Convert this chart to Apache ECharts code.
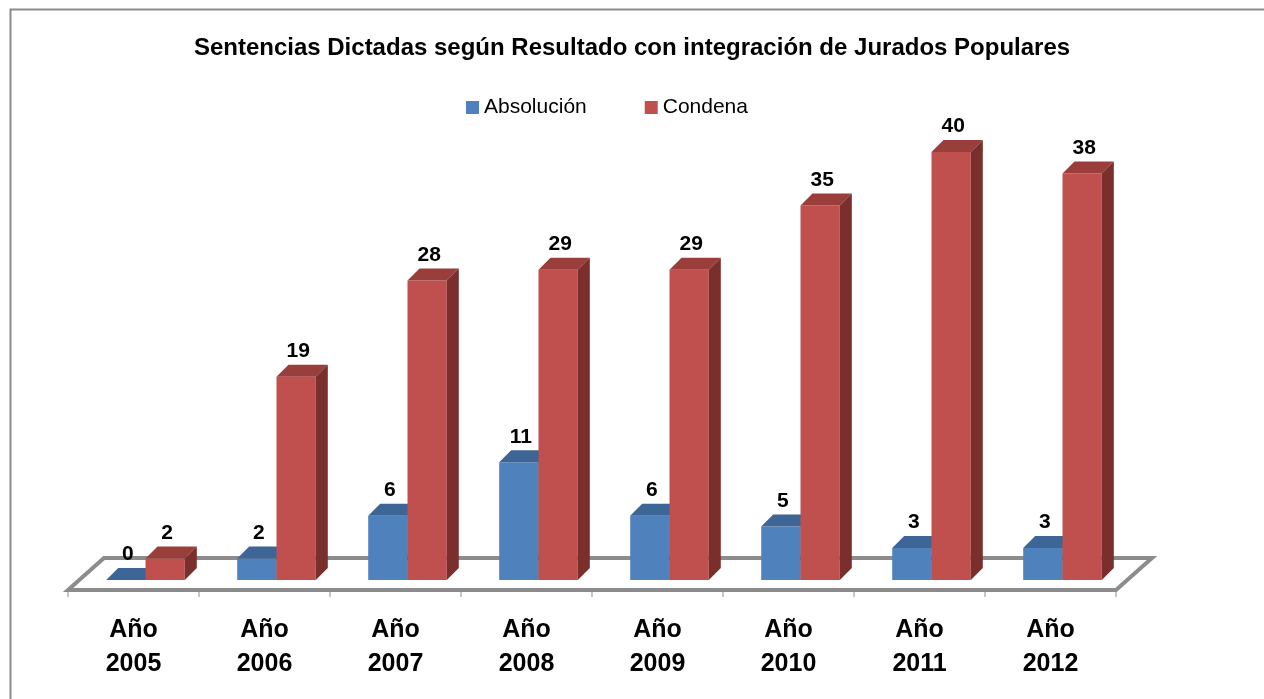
<!DOCTYPE html>
<html>
<head>
<meta charset="utf-8">
<title>Sentencias Dictadas</title>
<script src="https://cdn.jsdelivr.net/npm/echarts@6/dist/echarts.min.js"></script>
<style>
  html, body { margin: 0; padding: 0; background: #fff; }
  #chart { width: 1264px; height: 699px; }
</style>
</head>
<body>
<div id="chart"></div>
<script>
// datos
var years = ['Año\n2005', 'Año\n2006', 'Año\n2007', 'Año\n2008', 'Año\n2009', 'Año\n2010', 'Año\n2011', 'Año\n2012'];
var absolucion = [0, 2, 6, 11, 6, 5, 3, 3];
var condena = [2, 19, 28, 29, 29, 35, 40, 38];

var DEPTH = 12;
var FONT = '"Liberation Sans", Arial, sans-serif';

// colores: frente, tapa, lado
var colBlue = ['#4f81bd', '#3d6696', '#30547f'];
var colRed = ['#c0504d', '#9a3e3b', '#7b2f2d'];

function bar3d(side, cols) {
  return function (params, api) {
    var idx = api.value(0);
    var val = api.value(1);
    var top = api.coord([idx, val]);
    var base = api.coord([idx, 0]);
    var w = api.size([1, 0])[0] * 0.3;
    var x0 = top[0] + DEPTH + (side === 0 ? -w : 0);
    var yT = top[1], yB = base[1], d = DEPTH;
    return {
      type: 'group',
      children: [
        { type: 'rect', shape: { x: x0, y: yT, width: w, height: yB - yT },
          style: { fill: cols[0] } },
        { type: 'polygon', shape: { points: [[x0, yT], [x0 + d, yT - d], [x0 + w + d, yT - d], [x0 + w, yT]] },
          style: { fill: cols[1] } },
        { type: 'polygon', shape: { points: [[x0 + w, yT], [x0 + w + d, yT - d], [x0 + w + d, yB - d], [x0 + w, yB]] },
          style: { fill: cols[2] } },
        { type: 'text',
          style: { text: String(val), x: x0 + w / 2 + 2, y: yT - d - 3,
                   textAlign: 'center', textVerticalAlign: 'bottom',
                   align: 'center', verticalAlign: 'bottom',
                   fill: '#000', font: 'bold 21px ' + FONT } }
      ]
    };
  };
}

// piso 3D
function floorItem(params, api) {
  var cs = params.coordSys;
  var x = cs.x, r = cs.x + cs.width, y = cs.y + cs.height;
  var front = y + 10, back = y - 22, sh = 36;
  var n = years.length, step = cs.width / n;
  var children = [
    { type: 'polygon',
      shape: { points: [[x, front], [r, front], [r + sh, back], [x + sh, back]] },
      style: { fill: '#fff', stroke: '#8c8c8c', lineWidth: 4, lineJoin: 'miter' } }
  ];
  for (var i = 0; i <= n; i++) {
    children.push({ type: 'line',
      shape: { x1: x + i * step, y1: front + 2, x2: x + i * step, y2: front + 7 },
      style: { stroke: '#8c8c8c', lineWidth: 1 } });
  }
  return { type: 'group', children: children };
}

var myChart = echarts.init(document.getElementById('chart'));
var option = {
  backgroundColor: '#fff',
  animation: false,
  graphic: [{
    type: 'rect', left: 8, top: 7,
    shape: { width: 1300, height: 760 },
    style: { fill: 'none', stroke: '#8a8a8a', lineWidth: 2 }
  }],
  title: {
    text: 'Sentencias Dictadas según Resultado con integración de Jurados Populares',
    left: 'center',
    top: 31,
    textStyle: { fontFamily: FONT, fontSize: 24, fontWeight: 'bold', color: '#000' }
  },
  legend: {
    left: 461,
    top: 92,
    itemWidth: 13,
    itemHeight: 13,
    itemGap: 58,
    data: [
      { name: 'Absolución', icon: 'rect' },
      { name: 'Condena', icon: 'rect' }
    ],
    textStyle: { fontFamily: FONT, fontSize: 21, color: '#000' }
  },
  grid: { left: 68, right: 148, top: 152, bottom: 119 },
  xAxis: {
    type: 'category',
    data: years,
    axisLine: { show: false },
    axisTick: { show: false },
    axisLabel: {
      interval: 0,
      margin: 33,
      fontFamily: FONT,
      fontSize: 25,
      fontWeight: 'bold',
      lineHeight: 34,
      color: '#000'
    }
  },
  yAxis: { type: 'value', min: 0, max: 40, show: false },
  series: [
    {
      name: 'piso', type: 'custom', renderItem: floorItem,
      data: [[0, 0]], silent: true, z: 1
    },
    {
      name: 'Absolución', type: 'custom', renderItem: bar3d(0, colBlue),
      itemStyle: { color: colBlue[0] }, z: 2,
      encode: { x: 0, y: 1 },
      data: absolucion.map(function (v, i) { return [i, v]; })
    },
    {
      name: 'Condena', type: 'custom', renderItem: bar3d(1, colRed),
      itemStyle: { color: colRed[0] }, z: 3,
      encode: { x: 0, y: 1 },
      data: condena.map(function (v, i) { return [i, v]; })
    }
  ]
};
myChart.setOption(option);
</script>
</body>
</html>
